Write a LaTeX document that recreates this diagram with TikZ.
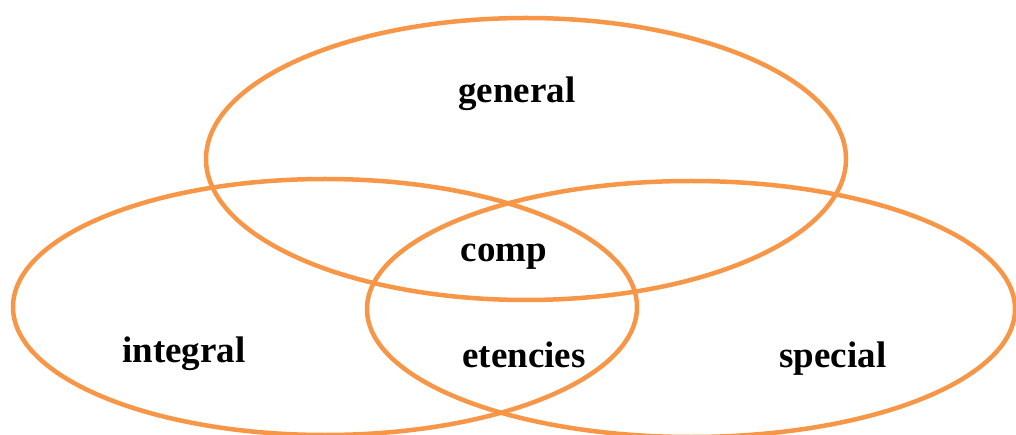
\documentclass[tikz,border=0pt]{standalone}
\usepackage{fontspec}
\setmainfont{Liberation Serif}
\definecolor{vennorange}{HTML}{F79646}
\begin{document}
\begin{tikzpicture}[x=1pt, y=-1pt,
  ring/.style={draw=vennorange, line width=4.5pt},
  label/.style={anchor=base, font=\fontsize{37}{44}\selectfont\bfseries, inner sep=0pt}]
% Fix the page size
\useasboundingbox (0, 0) rectangle (1016, 435);

% Draw the three sets
\draw[ring] (526, 159) ellipse [x radius=320, y radius=141];
\draw[ring] (325, 307) ellipse [x radius=312, y radius=128];
\draw[ring] (691, 309) ellipse [x radius=324, y radius=128];

% Insert the labels
\node[label] (general) at (517, 103) {general};
\node[label] (comp) at (504, 262) {comp};
\node[label] (integral) at (184, 362) {integral};
\node[label] (etencies) at (524, 367) {etencies};
\node[label] (special) at (833, 367) {special};
\end{tikzpicture}
\end{document}
